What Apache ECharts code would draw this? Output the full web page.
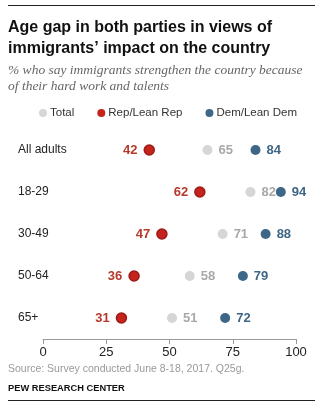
<!DOCTYPE html>
<html><head><meta charset="utf-8">
<script src="https://cdn.jsdelivr.net/npm/echarts@6/dist/echarts.min.js"></script>
<style>html,body{margin:0;padding:0;background:#fff}#c{width:327px;height:417px}</style>
</head><body><div id="c"></div>
<script>
const categories = ["All adults", "18-29", "30-49", "50-64", "65+"];
const totalVals = [65, 82, 71, 58, 51];
const repVals = [42, 62, 47, 36, 31];
const demVals = [84, 94, 88, 79, 72];
const xTicks = [0, 25, 50, 75, 100];

const chart = echarts.init(document.getElementById('c'));
const F = '"Liberation Sans", Arial, sans-serif';
function mk(name, vals, color, border, labelColor, pos) {
  return {
    name: name, type: 'scatter', symbol: 'circle', symbolSize: 10,
    data: vals.map((v, i) => [v, categories[i]]),
    itemStyle: { color: color, borderColor: border, borderWidth: border === color ? 0 : 1.5, opacity: 1 },
    label: { show: true, position: pos, distance: 6, formatter: p => p.value[0],
      color: labelColor, fontFamily: F, fontWeight: 'bold', fontSize: 13 },
    emphasis: { disabled: true }, z: 3
  };
}
chart.setOption({
  animation: false,
  grid: { left: 43, right: 31, top: 129, height: 210, containLabel: false },
  legend: {
    top: 102, left: 34, itemWidth: 8, itemHeight: 8, itemGap: 23, icon: 'circle',
    itemStyle: { borderWidth: 0 },
    textStyle: { fontFamily: F, fontSize: 11.5, color: '#333', padding: [0,0,0,-2] },
    data: ['Total', 'Rep/Lean Rep', 'Dem/Lean Dem']
  },
  xAxis: {
    type: 'value', min: 0, max: 100, interval: 25,
    axisLine: { show: true, lineStyle: { color: '#999' } },
    axisTick: { show: true, length: 5, lineStyle: { color: '#999' } },
    splitLine: { show: false },
    axisLabel: { color: '#222', fontFamily: F, fontSize: 13, margin: 7,
      formatter: v => xTicks.includes(v) ? String(v) : '' }
  },
  yAxis: {
    type: 'category', data: categories, inverse: true,
    axisLine: { show: false }, axisTick: { show: false },
    axisLabel: { align: 'left', margin: 25, color: '#222', fontFamily: F, fontSize: 12,
      padding: [0, 0, 5, 0] }
  },
  series: [
    mk('Total', totalVals, '#d6d6d6', '#d6d6d6', '#a8a8a8', 'right'),
    mk('Rep/Lean Rep', repVals, '#c4241c', '#9e1a14', '#b53a2c', 'left'),
    mk('Dem/Lean Dem', demVals, '#3e6686', '#3e6686', '#3e6686', 'right')
  ],
  graphic: [
    { type: 'line', shape: { x1: 8, y1: 5.5, x2: 315, y2: 5.5 }, style: { stroke: '#222', lineWidth: 1 } },
    { type: 'text', left: 8, top: 17, style: { text: 'Age gap in both parties in views of\nimmigrants\u2019 impact on the country',
      font: 'bold 16px "Liberation Sans", Arial, sans-serif', fill: '#111', lineHeight: 21 } },
    { type: 'text', left: 8, top: 62, style: { text: '% who say immigrants strengthen the country because\nof their hard work and talents',
      font: 'italic 13.5px "Liberation Serif", Georgia, serif', fill: '#666', lineHeight: 16 } },
    { type: 'text', left: 8, top: 364, style: { text: 'Source: Survey conducted June 8-18, 2017. Q25g.',
      font: '10.5px "Liberation Sans", Arial, sans-serif', fill: '#999' } },
    { type: 'text', left: 8, top: 384, style: { text: 'PEW RESEARCH CENTER',
      font: 'bold 9.3px "Liberation Sans", Arial, sans-serif', fill: '#111' } },
    { type: 'line', shape: { x1: 8, y1: 400.5, x2: 315, y2: 400.5 }, style: { stroke: '#222', lineWidth: 1 } }
  ]
});
</script></body></html>
